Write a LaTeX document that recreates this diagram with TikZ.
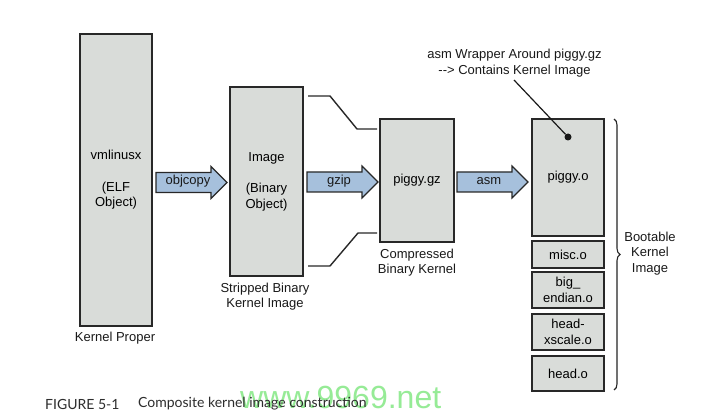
\documentclass[tikz,border=0pt]{standalone}
\usepackage{fontspec}
\setmainfont{Liberation Sans}
\newfontfamily\capfont{Lato}
\usetikzlibrary{decorations.pathreplacing,calc}
\definecolor{boxfill}{RGB}{217,220,217}
\definecolor{boxline}{RGB}{40,40,40}
\definecolor{arrfill}{RGB}{166,192,220}
\definecolor{wmgreen}{RGB}{150,235,150}
\definecolor{captext}{RGB}{45,45,45}
\newcommand\fatarrow[4]{%
  \filldraw[fill=arrfill,draw=boxline,line width=1.2pt,line join=miter]
    (#2,#3-10) -- (#2+55,#3-10) -- (#2+55,#3-16) -- (#2+71,#3)
    -- (#2+55,#3+16) -- (#2+55,#3+10) -- (#2,#3+10) -- cycle;
  \node[lbl] (#1) at (#2+32,#3-1) {#4};}
\begin{document}
\begin{tikzpicture}[x=1pt,y=-1pt,
  box/.style={draw=boxline,fill=boxfill,line width=1.4pt,inner sep=0pt,
    align=center,font=\fontsize{13}{15.5}\selectfont},
  lbl/.style={inner sep=0pt,align=center,font=\fontsize{13}{15.5}\selectfont,text=black!90},
  conn/.style={draw=boxline,line width=1.4pt}]
\useasboundingbox[fill=white] (0,0) rectangle (703,419);

% main boxes
\node[box,minimum width=72pt,minimum height=292pt] (vml) at (116,180)
  {vmlinusx\\[16pt](ELF\\Object)};
\node[box,minimum width=73pt,minimum height=189pt] (img) at (266.5,181.5)
  {Image\\[16pt](Binary\\Object)};
\node[box,minimum width=74pt,minimum height=123pt] (gz) at (417,180.5) {piggy.gz};
\node[box,minimum width=72pt,minimum height=117pt] (po) at (568,177.5) {piggy.o};
\node[box,minimum width=72pt,minimum height=27pt] (misc) at (568,254.5) {misc.o};
\node[box,minimum width=72pt,minimum height=36pt] (be) at (568,290) {big\_\\endian.o};
\node[box,minimum width=72pt,minimum height=36pt] (hx) at (568,332) {head-\\xscale.o};
\node[box,minimum width=72pt,minimum height=35pt] (ho) at (568,373.5) {head.o};

% labels
\node[lbl] (kp) at (115,338) {Kernel Proper};
\node[lbl] (sb) at (265,296.5) {Stripped Binary\\Kernel Image};
\node[lbl] (cb) at (417,262.5) {Compressed\\Binary Kernel};
\node[lbl] (bk) at (650,253.5) {Bootable\\Kernel\\Image};
\node[lbl] (annot) at (514.5,63) {asm Wrapper Around piggy.gz\\-{}-{}> Contains Kernel Image};

% fat arrows
\fatarrow{objcopy}{156}{182.5}{objcopy}
\fatarrow{gzip}{307}{182}{gzip}
\fatarrow{asm}{457}{182}{asm}

% expansion lines
\coordinate (t1) at (308,96);   \coordinate (t2) at (330,96);
\coordinate (t3) at (357,129);  \coordinate (t4) at (377,129);
\coordinate (b1) at (308,266);  \coordinate (b2) at (330,266);
\coordinate (b3) at (358,233);  \coordinate (b4) at (377,233);
\draw[conn] (t1) -- (t2) -- (t3) -- (t4);
\draw[conn] (b1) -- (b2) -- (b3) -- (b4);

% leader to dot
\node[circle,fill=black!90,inner sep=0pt,minimum size=7pt] (dot) at (568,137) {};
\coordinate (lead) at (514,80);
\draw[line width=1.2pt,black!90] (lead) -- (dot);

% brace
\coordinate (brt) at (614,119);
\coordinate (brb) at (614,390);
\draw[decorate,decoration={brace,amplitude=6pt},line width=1.1pt,black!85] (brt) -- (brb);

% caption and watermark
\node[anchor=west,inner sep=0pt,text=wmgreen,font=\fontsize{32}{32}\selectfont] (wm) at (240,397) {www.9969.net};
\node[anchor=west,inner sep=0pt,text=captext,font=\capfont\fontsize{14}{16}\selectfont] (fig) at (45,404) {FIGURE 5-1};
\node[anchor=west,inner sep=0pt,text=captext,font=\capfont\fontsize{14}{16}\selectfont] (cap) at (138,404) {Composite kernel image construction};
\end{tikzpicture}
\end{document}
